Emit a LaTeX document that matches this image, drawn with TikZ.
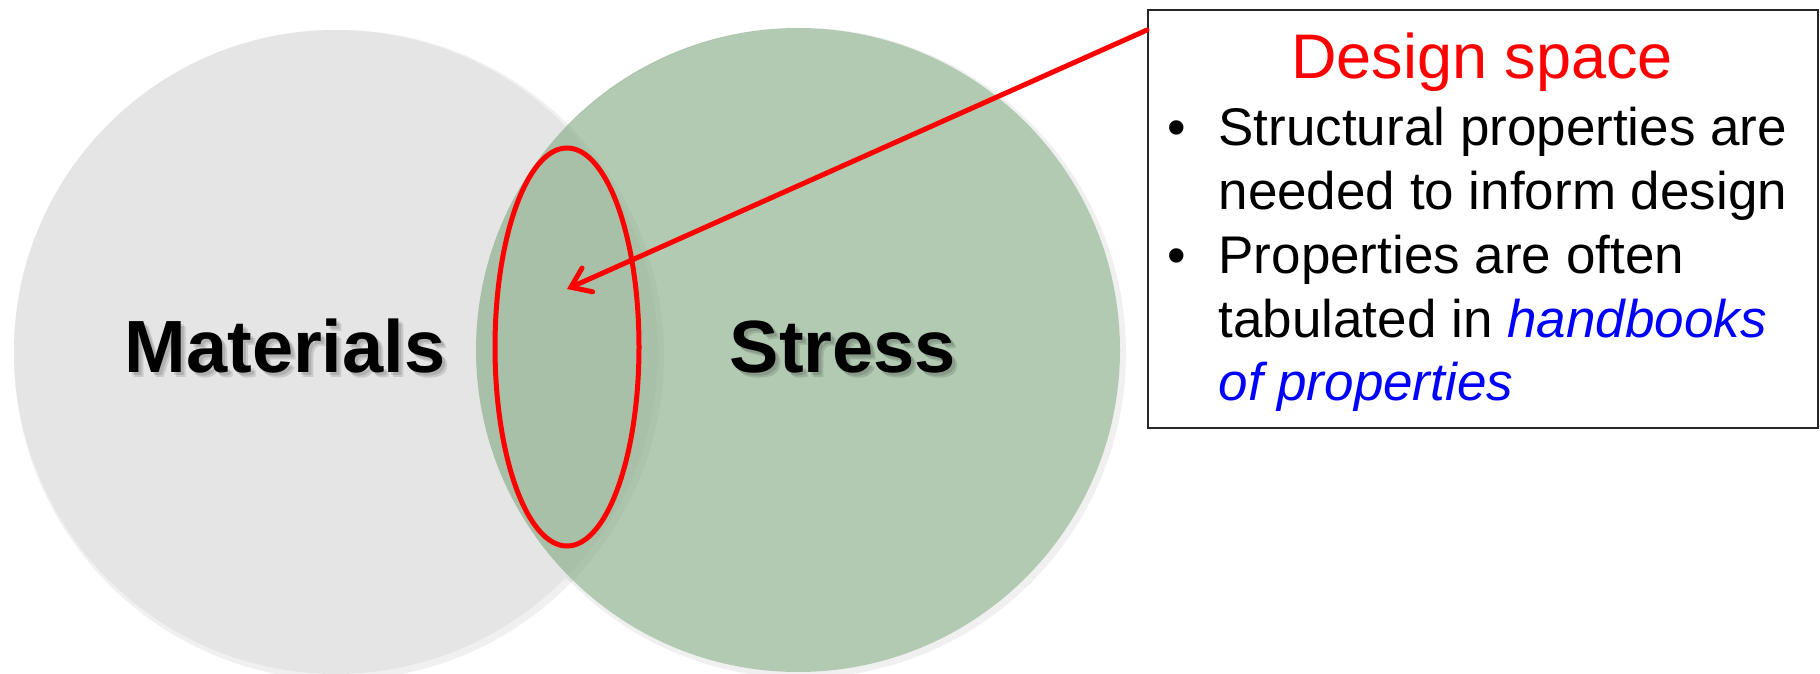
\documentclass[tikz,border=0pt]{standalone}
\usepackage{fontspec}
\setmainfont{Liberation Sans}
\usetikzlibrary{arrows.meta,shapes.geometric}
\definecolor{grayc}{RGB}{229,229,229}
\definecolor{greenc}{RGB}{124,165,124}
\definecolor{bluec}{RGB}{0,0,255}
\definecolor{redc}{RGB}{255,0,0}
\newcommand\shtext[1]{\makebox[0pt][l]{\pgfsetfillopacity{0.12}\hspace{5pt}\raisebox{-5pt}{#1}}\makebox[0pt][l]{\pgfsetfillopacity{0.12}\hspace{3pt}\raisebox{-3pt}{#1}}\pgfsetfillopacity{1}#1}
\begin{document}
\begin{tikzpicture}[x=1pt,y=-1pt,
  disc/.style={circle, minimum size=644pt, inner sep=0pt, outer sep=0pt},
  bigword/.style={anchor=base, font=\bfseries\fontsize{74}{80}\selectfont},
  body/.style={anchor=base west, font=\fontsize{53}{64}\selectfont},
  bul/.style={anchor=base, font=\fontsize{53}{64}\selectfont},
  redarrow/.style={draw=redc, line width=5pt, line cap=round, -{Straight Barb[length=18pt,width=26pt,line cap=round]}}
]
\useasboundingbox (0,0) rectangle (1820,674);
\fill[white] (0,0) rectangle (1820,674);
% soft shadow rings
\fill[black, opacity=0.06, even odd rule] (339,355) circle (325) (336,352) circle (322);
\fill[black, opacity=0.06, even odd rule] (801,353) circle (325) (798,350) circle (322);
% circles
\node[disc, fill=grayc] (mat) at (336,352) {};
\node[disc, fill=greenc, fill opacity=0.58] (str) at (798,350) {};
% labels with shadow
\node[bigword] (matl) at (285,372) {\shtext{Materials}};
\node[bigword] (strl) at (843,372) {\shtext{Stress}};
% design space ellipse
\node[ellipse, draw=redc, line width=5pt, minimum width=144pt, minimum height=398pt, inner sep=0pt] (ds) at (567,347) {};
% box
\node[draw=black!85, line width=2pt, fill=white, minimum width=670pt, minimum height=418pt, anchor=north west, inner sep=0pt] (box) at (1147,9) {};
\coordinate (astart) at (1147,30);
\coordinate (tip) at (567,289);
\draw[redarrow] (astart) -- (tip);
% box texts
\node[anchor=base, text=redc, font=\fontsize{63}{70}\selectfont] (title) at (1482,79) {Design space};
\node[bul] (b1) at (1177,146) {\textbullet};
\node[body] (l1) at (1215,146) {Structural properties are};
\node[body] (l2) at (1215,209) {needed to inform design};
\node[bul] (b2) at (1177,273) {\textbullet};
\node[body] (l3) at (1215,273) {Properties are often};
\node[body] (l4) at (1215,337) {tabulated in \textcolor{bluec}{\itshape handbooks}};
\node[body, text=bluec] (l5) at (1215,400) {\itshape of properties};
\end{tikzpicture}
\end{document}
